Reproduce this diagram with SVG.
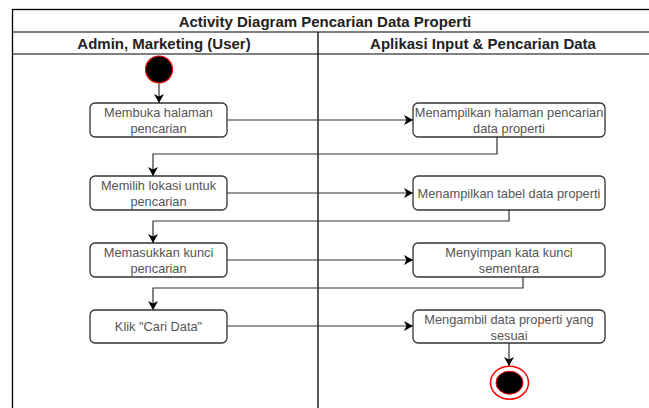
<svg xmlns="http://www.w3.org/2000/svg" width="649" height="408" viewBox="0 0 649 408">
<style>
.frame{fill:none;stroke:#000;stroke-width:1.3}
.sep{fill:none;stroke:#555;stroke-width:1.3}
.hdr{font-family:"Liberation Sans",Arial,sans-serif;font-size:15px;font-weight:bold;fill:#222;text-anchor:middle}
.box{fill:#fff;stroke:#333;stroke-width:1.3}
.lbl{font-family:"Liberation Sans",Arial,sans-serif;font-size:12.8px;fill:#555;text-anchor:middle}
.con{fill:none;stroke:#333;stroke-width:1.2}
</style>
<defs>
<marker id="arr" markerWidth="10" markerHeight="10" refX="9" refY="5" orient="auto" markerUnits="userSpaceOnUse">
<path d="M0,0 L9,5 L0,10 L2.5,5 z" fill="#000"/>
</marker>
</defs>
<g id="pool">
<rect class="frame" x="12.5" y="9.5" width="640" height="402"/>
<line class="sep" x1="12.5" y1="32" x2="652" y2="32"/>
<line class="sep" x1="12.5" y1="54" x2="652" y2="54"/>
<line class="frame" x1="318" y1="32" x2="318" y2="410"/>
<text class="hdr" x="325" y="26.5">Activity Diagram Pencarian Data Properti</text>
<text class="hdr" x="164" y="48.5">Admin, Marketing (User)</text>
<text class="hdr" x="483" y="48.5">Aplikasi Input &amp; Pencarian Data</text>
</g>
<g id="connectors">
<line class="con" x1="159" y1="83.5" x2="159" y2="103" marker-end="url(#arr)"/>
<line class="con" x1="227" y1="120" x2="413" y2="120" marker-end="url(#arr)"/>
<polyline class="con" points="497,137 497,154 153,154 153,176" marker-end="url(#arr)"/>
<line class="con" x1="227" y1="193" x2="413" y2="193" marker-end="url(#arr)"/>
<polyline class="con" points="509,210 509,221 153,221 153,243" marker-end="url(#arr)"/>
<line class="con" x1="227" y1="260" x2="413" y2="260" marker-end="url(#arr)"/>
<polyline class="con" points="523,277 523,288 153,288 153,310" marker-end="url(#arr)"/>
<line class="con" x1="227" y1="326" x2="413" y2="326" marker-end="url(#arr)"/>
<line class="con" x1="509" y1="343" x2="509" y2="366" marker-end="url(#arr)"/>
</g>
<g id="start">
<circle cx="159" cy="69.5" r="13.5" fill="#000" stroke="#ff0000" stroke-width="1.2"/>
</g>
<g id="a1">
<rect class="box" x="90" y="103" width="137" height="34" rx="5"/>
<text class="lbl" x="158.5" y="116.5">Membuka halaman</text>
<text class="lbl" x="158.5" y="133">pencarian</text>
</g>
<g id="b1">
<rect class="box" x="413" y="103" width="192" height="34" rx="5"/>
<text class="lbl" x="509" y="116.5">Menampilkan halaman pencarian</text>
<text class="lbl" x="509" y="133">data properti</text>
</g>
<g id="a2">
<rect class="box" x="90" y="176" width="137" height="34" rx="5"/>
<text class="lbl" x="158.5" y="189.5">Memilih lokasi untuk</text>
<text class="lbl" x="158.5" y="206">pencarian</text>
</g>
<g id="b2">
<rect class="box" x="413" y="176" width="192" height="34" rx="5"/>
<text class="lbl" x="509" y="197.5">Menampilkan tabel data properti</text>
</g>
<g id="a3">
<rect class="box" x="90" y="243" width="137" height="34" rx="5"/>
<text class="lbl" x="158.5" y="256.5">Memasukkan kunci</text>
<text class="lbl" x="158.5" y="273">pencarian</text>
</g>
<g id="b3">
<rect class="box" x="413" y="243" width="192" height="34" rx="5"/>
<text class="lbl" x="509" y="256.5">Menyimpan kata kunci</text>
<text class="lbl" x="509" y="273">sementara</text>
</g>
<g id="a4">
<rect class="box" x="90" y="310" width="137" height="33" rx="5"/>
<text class="lbl" x="158.5" y="330.5">Klik "Cari Data"</text>
</g>
<g id="b4">
<rect class="box" x="413" y="310" width="192" height="33" rx="5"/>
<text class="lbl" x="509" y="323.5">Mengambil data properti yang</text>
<text class="lbl" x="509" y="340">sesuai</text>
</g>
<g id="end">
<ellipse cx="509.5" cy="382.7" rx="19" ry="16.5" fill="#fff" stroke="#ff0000" stroke-width="1.5"/>
<ellipse cx="509.5" cy="382.7" rx="13.5" ry="11.5" fill="#000" stroke="#ff0000" stroke-width="1"/>
</g>
</svg>
